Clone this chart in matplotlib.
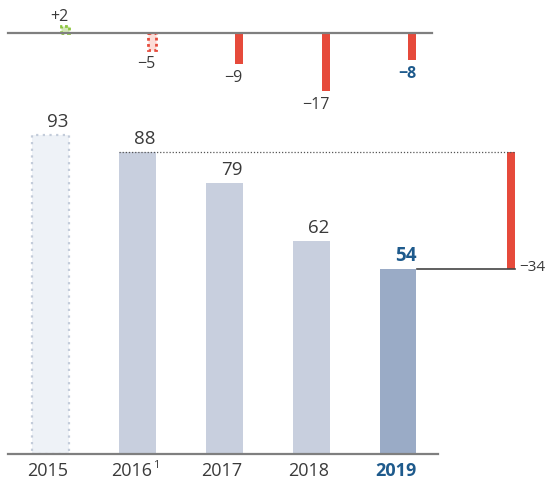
import matplotlib.pyplot as plt

plt.rcParams['font.family'] = ['Open Sans', 'DejaVu Sans']

years = ['2015', '2016', '2017', '2018', '2019']
values = [93, 88, 79, 62, 54]
changes = [2, -5, -9, -17, -8]
change_labels = ['+2', '\u22125', '\u22129', '\u221217', '\u22128']
total_change = -34
total_label = '\u221234'

RED = '#e64a3b'
GREEN = '#8dc63f'
BLUE = '#1e5a8c'
TXT = '#3a3a3a'
LINE = '#7f7f7f'

px = 1 / 87.0          # one pixel in x data units
py = 1 / 3.43          # one pixel in y data units
bw = 37 * px
sw = 8 * px

fig = plt.figure(figsize=(5.46, 4.84), dpi=100)
ax = fig.add_axes([0, 30 / 484, 1, 354 / 484])
top = fig.add_axes([0, 384 / 484, 1, 100 / 484])
for a in (ax, top):
    a.set_xlim(-50 * px, 496 * px)
    a.axis('off')
ax.set_ylim(0, 354 * py)
top.set_ylim(-67 * py, 33 * py)

# main bars
for i, v in enumerate(values):
    if i == 0:
        ax.bar(i, v, width=bw, color='#eef2f7', edgecolor='#c3ccda',
               linestyle=(0, (1, 2)), linewidth=1.6)
    else:
        c = '#9aabc6' if i == len(values) - 1 else '#c8cfde'
        ax.bar(i, v, width=bw, color=c, linewidth=0)
    bold = i == len(values) - 1
    ax.text(i + bw / 2, v + 8 * py, str(v), ha='right', va='baseline',
            fontsize=13.5, color=BLUE if bold else TXT,
            fontweight='bold' if bold else 'normal')

ax.plot([-42 * px, 388 * px], [0, 0], color=LINE, lw=1.6, clip_on=False)

# year labels
for i, y in enumerate(years):
    bold = i == len(years) - 1
    xx = i - 5 * px if i == 1 else i - 2 * px
    ax.text(xx, -17 * py, y, ha='center', va='center', fontsize=13,
            color=BLUE if bold else TXT, fontweight='bold' if bold else 'normal',
            clip_on=False)
ax.text(1 + 19 * px, -12 * py, '1', ha='center', va='center', fontsize=8, color=TXT)

# change 2016 -> 2019
xr = 461 * px
ax.bar(xr, total_change, bottom=values[1], width=sw, color=RED, linewidth=0)
ax.plot([1 - bw / 2, xr + sw / 2], [values[1], values[1]], color='#555555',
        lw=0.9, linestyle=(0, (1, 1.5)))
ax.plot([len(values) - 1 + bw / 2, xr + sw / 2], [values[-1], values[-1]],
        color='#444444', lw=1.2)
ax.text(xr + sw / 2 + 4 * px, values[-1] + 1 * py, total_label, ha='left', va='center',
        fontsize=11, color=TXT)

# top panel: yearly changes
for i, c in enumerate(changes):
    xs = i + bw / 2 - sw / 2
    if i == 0:
        top.bar(xs, c, width=sw, color='#d4e8b8', edgecolor=GREEN,
                linestyle=(0, (1, 1)), linewidth=2)
    elif i == 1:
        top.bar(xs, c, width=sw, color='#fcdcd7', edgecolor=RED,
                linestyle=(0, (1, 1.2)), linewidth=2)
    else:
        top.bar(xs, c, width=sw, color=RED, linewidth=0)
    bold = i == len(changes) - 1
    if c > 0:
        yy = 16 * py
    else:
        yy = c - 14 * py
    top.text(i + bw / 2, yy, change_labels[i], ha='right', va='center', fontsize=11.5,
             color=BLUE if bold else TXT, fontweight='bold' if bold else 'normal')

top.plot([-42 * px, 382 * px], [0, 0], color=LINE, lw=1.6)

fig.savefig('out.png', dpi=100)
